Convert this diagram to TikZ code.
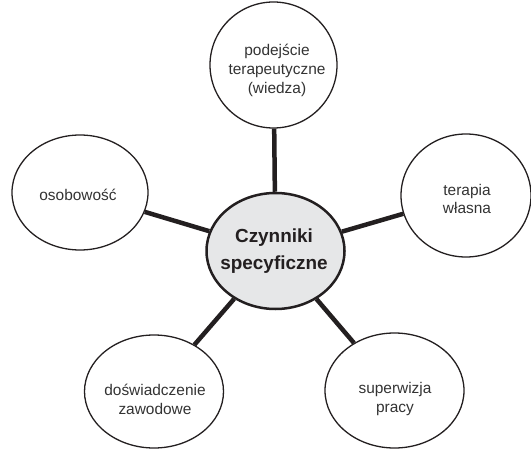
\documentclass[tikz,border=0pt]{standalone}
\usepackage{fontspec}
\setmainfont{Liberation Sans}
\usetikzlibrary{shapes.geometric}
\definecolor{ink}{HTML}{231F20}
\definecolor{txt}{HTML}{333333}
\definecolor{hubfill}{HTML}{E6E7E8}
\begin{document}
\begin{tikzpicture}[x=1bp,y=-1bp,
  leaf/.style={ellipse, draw=ink, line width=1.3bp, inner sep=0pt},
  leaftext/.style={align=center, text=txt, inner sep=0pt, font=\fontsize{15.5}{19}\selectfont},
  hub/.style={ellipse, draw=ink, fill=hubfill, line width=2.5bp, inner sep=0pt},
  hubtext/.style={align=center, text=ink, inner sep=0pt, font=\fontsize{19}{27}\selectfont\bfseries},
  link/.style={draw=ink, line width=4.5bp}]
\useasboundingbox (0,0) rectangle (531,449);
% ellipses
\node[hub, minimum width=138bp, minimum height=116bp] (c) at (275.5,251) {};
\node[leaf, minimum width=127bp, minimum height=126bp] (top) at (273.5,65) {};
\node[leaf, minimum width=136bp, minimum height=115bp] (left) at (80,192.5) {};
\node[leaf, minimum width=130bp, minimum height=123bp] (right) at (466,195.5) {};
\node[leaf, minimum width=139bp, minimum height=113bp] (bl) at (154,391.5) {};
\node[leaf, minimum width=139bp, minimum height=115bp] (br) at (394.5,390.5) {};
% connectors
\draw[link] (c) -- (top);
\draw[link] (c) -- (left);
\draw[link] (c) -- (right);
\draw[link] (c) -- (bl);
\draw[link] (c) -- (br);
% texts
\node[hubtext] (ct) at (274,251) {Czynniki\\specyficzne};
\node[leaftext] (topt) at (277,70) {podejście\\terapeutyczne\\(wiedza)};
\node[leaftext] (leftt) at (78,195) {osobowość};
\node[leaftext] (rightt) at (467,199) {terapia\\własna};
\node[leaftext] (blt) at (155,399) {doświadczenie\\zawodowe};
\node[leaftext] (brt) at (395,399) {superwizja\\pracy};
\end{tikzpicture}
\end{document}
